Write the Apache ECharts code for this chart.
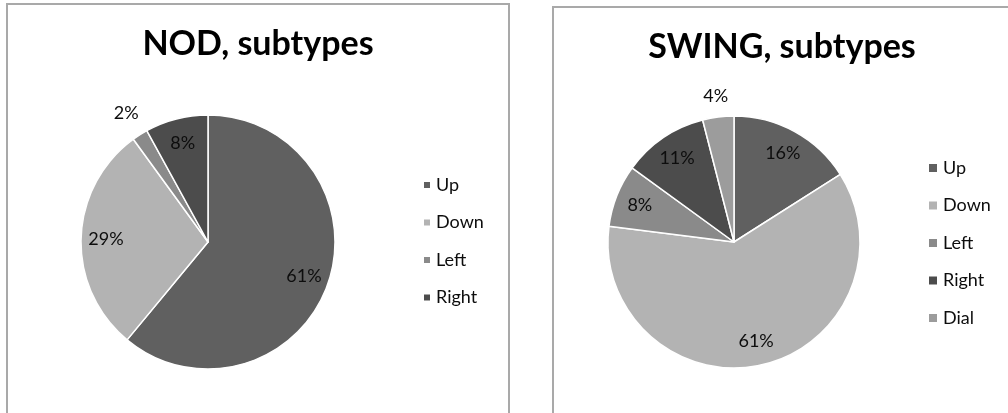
<!DOCTYPE html>
<html>
	<head>
		<meta charset="UTF-8" />
		<script src="https://cdn.jsdelivr.net/npm/echarts@6/dist/echarts.min.js"></script>
		<title>subtypes</title>
		<style>
			body {
				margin: 0;
				background-color: #fff;
				overflow: hidden;
			}
			.frame {
				position: absolute;
				border: 2px solid #a9a9a9;
				background: #fff;
			}
			#nod {
				left: 6px;
				top: 3px;
				width: 500px;
				height: 420px;
			}
			#swing {
				left: 552px;
				top: 6px;
				width: 456px;
				height: 420px;
			}
		</style>
	</head>
	<body>
		<div id="nod" class="frame"></div>
		<div id="swing" class="frame"></div>
	</body>
</html>

<script>
	// NOD chart
	var nodNames = ['Up', 'Down', 'Left', 'Right']
	var nodValues = [61, 29, 2, 8]
	var nodColors = ['#606060', '#b3b3b3', '#8a8a8a', '#4c4c4c']
	var nodOutside = ['Left'] // small slices with label outside

	// SWING chart
	var swingNames = ['Up', 'Down', 'Left', 'Right', 'Dial']
	var swingValues = [16, 61, 8, 11, 4]
	var swingColors = ['#606060', '#b3b3b3', '#8a8a8a', '#4c4c4c', '#9c9c9c']
	var swingOutside = ['Dial']

	var font = 'Lato, "Open Sans", sans-serif'

	function makeData(names, values, colors) {
		var arr = []
		for (var i = 0; i < names.length; i++) {
			arr.push({ name: names[i], value: values[i], itemStyle: { color: colors[i] } })
		}
		return arr
	}

	// transparent ring that only carries labels
	function labelRing(names, values, radius, center, showList, invert) {
		var arr = []
		for (var i = 0; i < names.length; i++) {
			var inList = showList.indexOf(names[i]) >= 0
			arr.push({
				name: names[i],
				value: values[i],
				label: { show: invert ? !inList : inList },
			})
		}
		return {
			type: 'pie',
			silent: true,
			center: center,
			radius: radius,
			startAngle: 90,
			avoidLabelOverlap: false,
			itemStyle: { color: 'rgba(0,0,0,0)', borderWidth: 0 },
			label: {
				position: 'inside',
				formatter: '{c}%',
				color: '#0d0d0d',
				fontFamily: font,
				fontSize: 18,
			},
			labelLine: { show: false },
			emphasis: { disabled: true },
			data: arr,
		}
	}

	function buildOption(title, titleTop, names, values, colors, outside, center, r, legendLeft, legendTop, iconSize, outR) {
		return {
			animation: false,
			title: {
				text: title,
				left: 'center',
				top: titleTop,
				textStyle: { fontFamily: font, fontSize: 34, fontWeight: 'bold', color: '#000' },
			},
			legend: {
				orient: 'vertical',
				left: legendLeft,
				top: legendTop,
				padding: 0,
				icon: 'rect',
				itemWidth: iconSize,
				itemHeight: iconSize,
				itemGap: 19.5,
				data: names,
				textStyle: { fontFamily: font, fontSize: 18, lineHeight: 18, color: '#0d0d0d' },
			},
			series: [
				{
					type: 'pie',
					center: center,
					radius: r,
					startAngle: 90,
					label: { show: false },
					labelLine: { show: false },
					itemStyle: { borderColor: '#fff', borderWidth: 1.5 },
					emphasis: { disabled: true },
					data: makeData(names, values, colors),
				},
				labelRing(names, values, [r * 0.56, r], center, outside, true),
				labelRing(names, values, [r, outR], center, outside, false),
			],
		}
	}

	var nodChart = echarts.init(document.getElementById('nod'))
	nodChart.setOption(buildOption('NOD, subtypes', 17, nodNames, nodValues, nodColors, nodOutside, [200, 237], 127, 414, 171, 8, 172))

	var swingChart = echarts.init(document.getElementById('swing'))
	swingChart.setOption(buildOption('SWING, subtypes', 17, swingNames, swingValues, swingColors, swingOutside, [180, 234], 126, 373, 151, 10, 161))
</script>
